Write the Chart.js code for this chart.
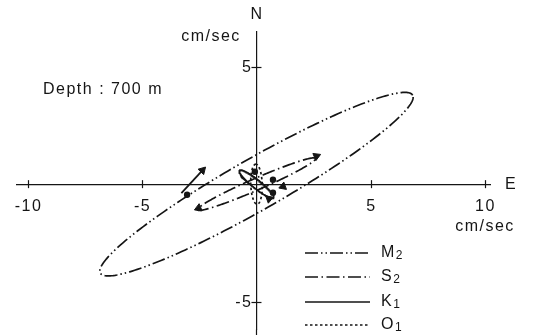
<!DOCTYPE html>
<html>
<head>
<meta charset="utf-8">
<script src="https://cdn.jsdelivr.net/npm/chart.js@4/dist/chart.umd.min.js"></script>
<style>
  html, body { margin: 0; padding: 0; background: #fff; }
  #wrap { width: 536px; height: 335px; position: relative; }
</style>
</head>
<body>
<div id="wrap"><canvas id="c" width="536" height="335"></canvas></div>
<script>
// Tidal current ellipses at 700 m depth (east / north components, cm/sec)
const constituents = ['M2', 'S2', 'K1', 'O1'];
const semiMajor   = [7.8, 2.8, 0.95, 0.85];   // cm/sec
const semiMinor   = [1.1, 0.25, 0.18, 0.25];  // cm/sec
const inclination = [29, 23, -38, 92];        // degrees, counter-clockwise from east

// phase markers (dots) on each ellipse
const phaseE = [-3.03, 0.72, 0.72, -0.07];
const phaseN = [-0.45, 0.19, -0.36, 0.53];

// rotation-sense arrow shaft drawn beside the M2 ellipse
const shaftE = [-3.28, -2.36];
const shaftN = [-0.38, 0.59];

// arrow heads: position and heading (degrees, counter-clockwise from east)
const headE   = [-2.36, 2.62, -2.53, 1.16, 0.55];
const headN   = [0.59, 1.19, -1.02, -0.10, -0.62];
const headDir = [46, 23, 203, 200, 140];

const xTicks = [-10, -5, 5, 10];
const yTicks = [-5, 5];

// line styles per constituent
const dashStyles = {
  M2: [13, 3, 1.5, 3, 1.5, 3],
  S2: [13, 3.5, 1.5, 3.5],
  K1: [],
  O1: [2.5, 2.5]
};

function ellipsePoints(a, b, incDeg) {
  const th = incDeg * Math.PI / 180;
  const pts = [];
  const n = 240;
  for (let i = 0; i <= n; i++) {
    const t = (i / n) * 2 * Math.PI;
    const u = a * Math.cos(t), v = b * Math.sin(t);
    pts.push({ x: u * Math.cos(th) - v * Math.sin(th), y: u * Math.sin(th) + v * Math.cos(th) });
  }
  return pts;
}

const INK = '#151515';
const FONT = '"Liberation Sans", Arial, sans-serif';

const datasets = constituents.map((name, i) => ({
  label: name,
  data: ellipsePoints(semiMajor[i], semiMinor[i], inclination[i]),
  showLine: true,
  borderColor: INK,
  borderWidth: name === 'K1' ? 1.8 : 1.7,
  borderDash: dashStyles[name],
  pointRadius: 0,
  fill: false,
  tension: 0
}));

datasets.push({
  label: 'phase',
  data: phaseE.map((e, i) => ({ x: e, y: phaseN[i] })),
  showLine: false,
  pointRadius: 3.2,
  pointBackgroundColor: INK,
  pointBorderWidth: 0
});

datasets.push({
  label: 'shaft',
  data: shaftE.map((e, i) => ({ x: e, y: shaftN[i] })),
  showLine: true,
  borderColor: INK,
  borderWidth: 1.8,
  pointRadius: 0
});

datasets.push({
  label: 'heads',
  data: headE.map((e, i) => ({ x: e, y: headN[i] })),
  showLine: false,
  pointStyle: 'triangle',
  pointRadius: 4.5,
  pointRotation: headDir.map(d => 90 - d),
  pointBackgroundColor: INK,
  pointBorderColor: INK,
  pointBorderWidth: 1
});

// axis tick crosses and labels, axis titles, depth note and line-style key
const annotations = {
  id: 'annotations',
  afterDraw(chart) {
    const { ctx, scales: { x, y } } = chart;
    const x0 = x.getPixelForValue(0), y0 = y.getPixelForValue(0);
    ctx.save();
    ctx.strokeStyle = INK;
    ctx.fillStyle = INK;
    ctx.lineWidth = 1.2;
    ctx.setLineDash([]);
    // vertical axis carried down to the lower edge
    ctx.beginPath(); ctx.moveTo(Math.round(x0) + 0.5, chart.chartArea.bottom); ctx.lineTo(Math.round(x0) + 0.5, chart.height); ctx.stroke();

    ctx.font = '16px ' + FONT;
    ctx.letterSpacing = '1.5px';
    ctx.textBaseline = 'middle';

    xTicks.forEach(v => {
      const px = Math.round(x.getPixelForValue(v)) + 0.5;
      ctx.beginPath(); ctx.moveTo(px, y0 - 4); ctx.lineTo(px, y0 + 4); ctx.stroke();
      ctx.textAlign = 'center';
      ctx.fillText(String(v), px, y0 + 22);
    });
    yTicks.forEach(v => {
      const py = Math.round(y.getPixelForValue(v)) + 0.5;
      ctx.beginPath(); ctx.moveTo(x0 - 5, py); ctx.lineTo(x0 + 5, py); ctx.stroke();
      ctx.textAlign = 'right';
      ctx.fillText(String(v), x0 - 4, py);
    });

    ctx.textAlign = 'center';
    ctx.fillText('N', 257, 15);
    ctx.fillText('E', 511, 185);
    ctx.fillText('cm/sec', 211, 37);
    ctx.fillText('cm/sec', 485, 227);
    ctx.textAlign = 'left';
    ctx.fillText('Depth : 700 m', 43, 90);

    // key
    const rowY = [253, 277, 302, 325];
    constituents.forEach((name, i) => {
      ctx.setLineDash(dashStyles[name]);
      ctx.lineWidth = 1.6;
      ctx.beginPath(); ctx.moveTo(305, rowY[i]); ctx.lineTo(370, rowY[i]); ctx.stroke();
      ctx.setLineDash([]);
      ctx.font = '16px ' + FONT;
      ctx.textAlign = 'left';
      ctx.fillText(name[0], 381, rowY[i]);
      const w = ctx.measureText(name[0]).width;
      ctx.font = '12px ' + FONT;
      ctx.fillText(name[1], 381 + w, rowY[i] + 3);
    });
    ctx.restore();
  }
};

new Chart(document.getElementById('c'), {
  type: 'scatter',
  data: { datasets },
  options: {
    responsive: false,
    animation: false,
    events: [],
    layout: { padding: { left: 17, right: 46, top: 32, bottom: 0 } },
    plugins: { legend: { display: false }, tooltip: { enabled: false } },
    scales: {
      x: {
        type: 'linear',
        min: -10.46, max: 10.2,
        position: { y: 0 },
        afterBuildTicks: s => { s.ticks = xTicks.map(v => ({ value: v })); },
        grid: { display: true, drawOnChartArea: false, drawTicks: false },
        border: { display: true, color: INK, width: 1.2 },
        ticks: { display: false }
      },
      y: {
        type: 'linear',
        min: -6.18, max: 6.47,
        position: { x: 0 },
        afterBuildTicks: s => { s.ticks = yTicks.map(v => ({ value: v })); },
        grid: { display: true, drawOnChartArea: false, drawTicks: false },
        border: { display: true, color: INK, width: 1.2 },
        ticks: { display: false }
      }
    }
  },
  plugins: [annotations]
});
</script>
</body>
</html>
